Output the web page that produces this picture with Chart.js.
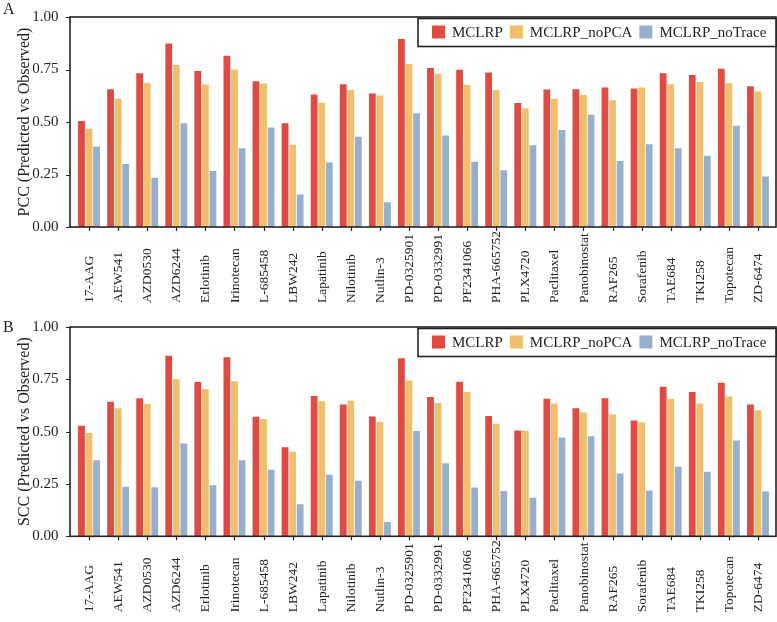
<!DOCTYPE html>
<html>
<head>
<meta charset="utf-8">
<script src="https://cdn.jsdelivr.net/npm/chart.js@4.4.1/dist/chart.umd.min.js"></script>
<style>
  html, body { margin: 0; padding: 0; background: #fff; }
  #wrap { position: relative; width: 777px; height: 622px; overflow: hidden; }
  canvas { position: absolute; left: 0; }
</style>
</head>
<body>
<div id="wrap">
  <canvas id="pccChart" width="777" height="310" style="top:0"></canvas>
  <canvas id="sccChart" width="777" height="312" style="top:310px"></canvas>
</div>
<script>
const drugs = ['17-AAG', 'AEW541', 'AZD0530', 'AZD6244', 'Erlotinib', 'Irinotecan', 'L-685458', 'LBW242',
    'Lapatinib', 'Nilotinib', 'Nutlin-3', 'PD-0325901', 'PD-0332991', 'PF2341066', 'PHA-665752', 'PLX4720',
    'Paclitaxel', 'Panobinostat', 'RAF265', 'Sorafenib', 'TAE684', 'TKI258', 'Topotecan', 'ZD-6474'];

const seriesNames = ['MCLRP', 'MCLRP_noPCA', 'MCLRP_noTrace'];
const yTicks = [0, 0.25, 0.5, 0.75, 1.0];

// panel A - PCC
const pccMCLRP   = [0.505, 0.656, 0.732, 0.874, 0.743, 0.816, 0.694, 0.494, 0.631, 0.680, 0.636, 0.895,
                    0.757, 0.749, 0.736, 0.590, 0.655, 0.656, 0.664, 0.659, 0.732, 0.724, 0.754, 0.670];
const pccNoPCA   = [0.468, 0.611, 0.686, 0.772, 0.678, 0.750, 0.683, 0.392, 0.592, 0.652, 0.626, 0.776,
                    0.730, 0.677, 0.652, 0.565, 0.611, 0.628, 0.604, 0.664, 0.680, 0.691, 0.684, 0.645];
const pccNoTrace = [0.383, 0.300, 0.234, 0.494, 0.267, 0.375, 0.474, 0.155, 0.308, 0.430, 0.118, 0.542,
                    0.436, 0.311, 0.270, 0.389, 0.462, 0.535, 0.314, 0.394, 0.375, 0.339, 0.482, 0.240];

// panel B - SCC
const sccMCLRP   = [0.528, 0.643, 0.659, 0.863, 0.737, 0.855, 0.571, 0.426, 0.670, 0.630, 0.572, 0.851,
                    0.665, 0.739, 0.575, 0.506, 0.657, 0.612, 0.660, 0.553, 0.715, 0.689, 0.734, 0.630];
const sccNoPCA   = [0.494, 0.612, 0.632, 0.752, 0.703, 0.741, 0.561, 0.404, 0.645, 0.648, 0.546, 0.744,
                    0.637, 0.690, 0.538, 0.503, 0.634, 0.591, 0.582, 0.544, 0.657, 0.635, 0.668, 0.602];
const sccNoTrace = [0.363, 0.237, 0.234, 0.443, 0.244, 0.363, 0.318, 0.153, 0.294, 0.266, 0.068, 0.503,
                    0.349, 0.233, 0.217, 0.184, 0.472, 0.478, 0.300, 0.219, 0.332, 0.308, 0.458, 0.214];

const colors = ['#df4a42', '#efbf6d', '#98afcc'];
const serif = '"Liberation Serif", "DejaVu Serif", serif';
const ink = '#222';
const framePad = 4.5;

// frame, tick marks, rotated labels, legend box and panel letter
const figureDecor = {
    id: 'figureDecor',
    afterDraw(chart, args, opts) {
        const { ctx, chartArea: a, scales: { x, y } } = chart;
        const L = a.left - framePad, R = a.right + framePad - 1;
        ctx.save();
        ctx.strokeStyle = ink;
        ctx.lineWidth = 1.2;
        ctx.beginPath();
        y.ticks.forEach(t => {
            const py = Math.round(y.getPixelForValue(t.value)) + 0.5;
            ctx.moveTo(L - 4, py); ctx.lineTo(L, py);
        });
        x.ticks.forEach((t, i) => {
            const px = Math.round(x.getPixelForTick(i)) + 0.5;
            ctx.moveTo(px, a.bottom); ctx.lineTo(px, a.bottom + 4);
        });
        ctx.stroke();
        ctx.lineWidth = 1.6;
        ctx.strokeRect(L, a.top, R - L, a.bottom - a.top);

        // category labels, bottom aligned
        ctx.fillStyle = ink;
        ctx.font = '13.5px ' + serif;
        ctx.textAlign = 'left';
        ctx.textBaseline = 'middle';
        drugs.forEach((d, i) => {
            ctx.save();
            ctx.translate(x.getPixelForTick(i) + 0.5, a.bottom + 76);
            ctx.rotate(-Math.PI / 2);
            ctx.fillText(d, 0, 0);
            ctx.restore();
        });

        // legend
        const boxL = R - 358, boxT = a.top + 1.5, boxH = 28;
        ctx.fillStyle = '#fff';
        ctx.fillRect(boxL, boxT, R - boxL, boxH);
        ctx.lineWidth = 1.6;
        ctx.strokeRect(boxL, boxT, R - boxL, boxH);
        ctx.font = '15px ' + serif;
        let lx = boxL + 14;
        chart.data.datasets.forEach(ds => {
            ctx.fillStyle = ds.backgroundColor;
            ctx.fillRect(lx, boxT + 7, 13, 13);
            ctx.fillStyle = ink;
            ctx.fillText(ds.label, lx + 20, boxT + 14.5);
            lx += 20 + ctx.measureText(ds.label).width + 7;
        });

        // panel letter
        ctx.font = '16px ' + serif;
        ctx.textBaseline = 'alphabetic';
        ctx.fillText(opts.letter, 3, opts.letterY);
        ctx.restore();
    }
};

function makeChart(id, yTitle, values, letter, letterY, padTop, axisH) {
    const ctx = document.getElementById(id).getContext('2d');
    return new Chart(ctx, {
        type: 'bar',
        data: {
            labels: drugs,
            datasets: seriesNames.map((name, i) => ({
                label: name,
                data: values[i],
                backgroundColor: colors[i],
                barPercentage: 0.9,
                categoryPercentage: 0.78
            }))
        },
        options: {
            responsive: false,
            animation: false,
            layout: { padding: { left: 0, right: 4.5, top: padTop, bottom: 0 } },
            plugins: {
                legend: { display: false },
                tooltip: { enabled: false },
                figureDecor: { letter: letter, letterY: letterY }
            },
            scales: {
                x: {
                    grid: { display: false },
                    border: { display: false },
                    ticks: { display: false },
                    afterFit: s => { s.height = axisH; }
                },
                y: {
                    min: 0,
                    max: 1,
                    afterBuildTicks: s => { s.ticks = yTicks.map(v => ({ value: v })); },
                    grid: { display: false },
                    border: { display: false },
                    ticks: {
                        padding: 8,
                        color: ink,
                        font: { family: serif, size: 15 },
                        callback: v => Number(v).toFixed(2)
                    },
                    title: {
                        display: true,
                        text: yTitle,
                        color: ink,
                        font: { family: serif, size: 16 },
                        padding: { top: 15, bottom: 0 }
                    },
                    afterFit: s => { s.width = 74.5; }
                }
            }
        },
        plugins: [figureDecor]
    });
}

makeChart('pccChart', 'PCC (Predicted vs Observed)', [pccMCLRP, pccNoPCA, pccNoTrace], 'A', 13.5, 15, 83);
makeChart('sccChart', 'SCC (Predicted vs Observed)', [sccMCLRP, sccNoPCA, sccNoTrace], 'B', 22, 14.3, 312 - 226.3);
</script>
</body>
</html>
